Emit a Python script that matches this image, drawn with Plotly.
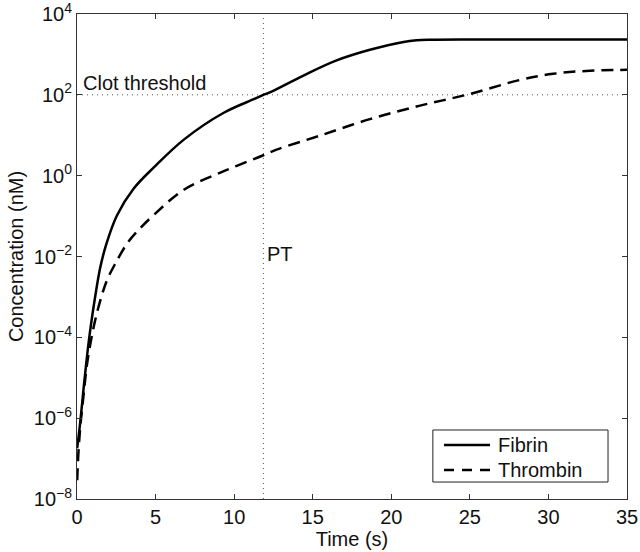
import plotly.graph_objects as go

# Fibrin concentration (nM) vs time (s)
t_fibrin = [0.01, 0.22, 0.43, 0.64, 0.85, 1.17, 1.49, 1.91, 2.55, 3.61, 4.89, 6.80, 9.34,
            11.25, 11.86, 12.27, 14.41, 16.52, 18.64, 20.78, 21.6, 22.46, 25.0, 30.0, 35.0]
fibrin = [1.8e-7, 8.9e-7, 6.0e-6, 3.5e-5, 1.6e-4, 1.1e-3, 5.6e-3, 2.3e-2, 1.05e-1, 0.48, 1.6,
          7.8, 36, 78, 100, 115, 300, 710, 1300, 2040, 2240, 2310, 2345, 2345, 2345]

# Thrombin concentration (nM) vs time (s)
t_thrombin = [0.01, 0.11, 0.25, 0.43, 0.64, 1.06, 1.49, 1.91, 2.45, 3.19, 3.93, 4.89, 6.80,
              9.34, 11.86, 12.70, 15.46, 18.64, 21.83, 25.0, 28.2, 30.3, 32.4, 35.0]
thrombin = [2.9e-8, 1.9e-7, 8.9e-7, 4.1e-6, 2.2e-5, 1.8e-4, 8.3e-4, 2.6e-3, 6.8e-3, 2.1e-2,
            4.6e-2, 0.107, 0.45, 1.29, 3.2, 4.4, 9.8, 25, 54, 105, 234, 331, 390, 417]

series_names = ["Fibrin", "Thrombin"]
clot_threshold = 100
pt_time = 11.86
x_range = [0, 35]
y_decades = [-8, 4]
x_ticks = [0, 5, 10, 15, 20, 25, 30, 35]
y_tick_exps = [-8, -6, -4, -2, 0, 2, 4]

FONT = "Liberation Sans, Arial, Helvetica, sans-serif"
FS = 20
DASH = "12px,7px"

fig = go.Figure()
# reference lines
fig.add_trace(go.Scatter(x=x_range, y=[clot_threshold, clot_threshold], mode="lines",
                         line=dict(color="#555555", width=1, dash="1px,4px"),
                         showlegend=False, hoverinfo="skip"))
fig.add_trace(go.Scatter(x=[pt_time, pt_time], y=[10 ** y_decades[0], 10 ** y_decades[1]],
                         mode="lines", line=dict(color="#555555", width=1, dash="1px,4px"),
                         showlegend=False, hoverinfo="skip"))
fig.add_trace(go.Scatter(x=t_fibrin, y=fibrin, mode="lines", name=series_names[0],
                         showlegend=False,
                         line=dict(color="black", width=2.5, shape="spline", smoothing=1.0)))
fig.add_trace(go.Scatter(x=t_thrombin, y=thrombin, mode="lines", name=series_names[1],
                         showlegend=False,
                         line=dict(color="black", width=2.5, dash=DASH,
                                   shape="spline", smoothing=1.0)))

fig.add_annotation(x=0.25, y=2.29, xref="x", yref="y", text="Clot threshold",
                   showarrow=False, xanchor="left", yanchor="middle",
                   font=dict(size=FS, color="#111111", family=FONT))
fig.add_annotation(x=11.95, y=-1.95, xref="x", yref="y", text="PT",
                   showarrow=False, xanchor="left", yanchor="middle",
                   font=dict(size=FS, color="#111111", family=FONT))

# legend box (MATLAB style) in axis-domain coordinates
fig.add_shape(type="rect", xref="x domain", yref="y domain",
              x0=0.647, x1=0.9655, y0=0.035, y1=0.1423,
              line=dict(color="#222222", width=1), fillcolor="white", layer="above")
legend_rows = [(0.1113, None), (0.0598, "10px,8px")]
for name, (yy, dash) in zip(series_names, legend_rows):
    fig.add_shape(type="line", xref="x domain", yref="y domain",
                  x0=0.6673, x1=0.7509, y0=yy, y1=yy, layer="above",
                  line=dict(color="black", width=2.5, dash=dash if dash else "solid"))
    fig.add_annotation(x=0.7636, y=yy, xref="x domain", yref="y domain", text=name,
                       showarrow=False, xanchor="left", yanchor="middle", borderpad=0,
                       font=dict(size=FS, color="#111111", family=FONT))

fig.update_layout(
    width=640, height=552,
    margin=dict(l=77, r=13, t=14, b=53),
    paper_bgcolor="white", plot_bgcolor="white",
    font=dict(family=FONT, size=FS, color="#111111"),
    showlegend=False,
)
fig.update_xaxes(range=x_range, tickvals=x_ticks, ticks="inside", ticklen=5,
                 tickcolor="#333333", showline=True, linecolor="#333333", linewidth=1,
                 mirror="ticks", showgrid=False, zeroline=False, automargin=False,
                 ticklabeloverflow="allow",
                 title=dict(text="Time (s)", standoff=0, font=dict(size=FS)),
                 tickfont=dict(size=FS))
fig.update_yaxes(type="log", range=y_decades,
                 tickvals=[10 ** e for e in y_tick_exps],
                 ticktext=["10<sup>" + (str(e) if e >= 0 else "\u2212" + str(-e)) + "</sup>"
                           for e in y_tick_exps],
                 ticks="inside", ticklen=5, tickcolor="#333333", showline=True,
                 linecolor="#333333", linewidth=1, mirror="ticks", showgrid=False,
                 zeroline=False, automargin=False, ticklabeloverflow="allow",
                 title=dict(text="Concentration (nM)", standoff=4, font=dict(size=FS)),
                 tickfont=dict(size=FS))

fig.write_html("out.html")
